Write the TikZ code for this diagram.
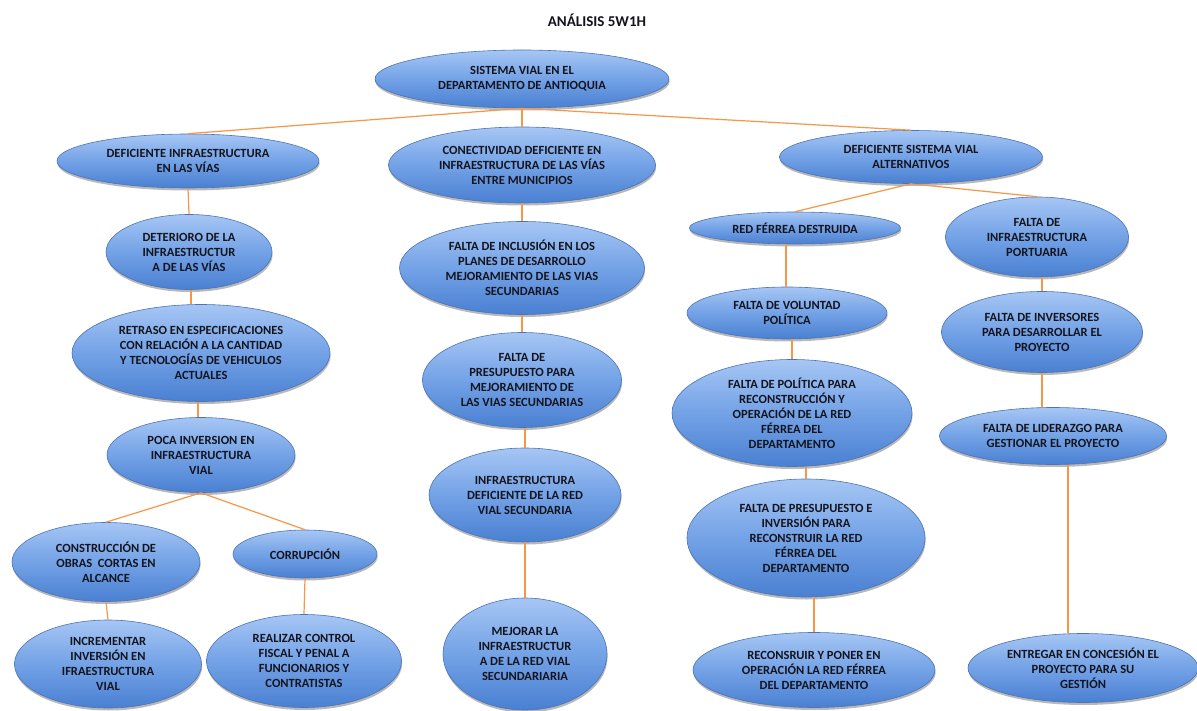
\documentclass[tikz,border=0pt]{standalone}
\usepackage{fontspec}
\setmainfont{Carlito}
\usetikzlibrary{shapes.geometric,shadows,calc}
\definecolor{ctop}{HTML}{A6C6F4}
\definecolor{cmid}{HTML}{73A2E6}
\definecolor{cbot}{HTML}{4A80D2}
\definecolor{eborder}{HTML}{4A74B8}
\definecolor{ctext}{HTML}{14141E}
\definecolor{corange}{HTML}{F79646}
\tikzset{
  bub/.style={ellipse, draw=eborder, line width=0.6pt, top color=ctop, bottom color=cbot, middle color=cmid,
    inner sep=0pt, align=center, font=\fontsize{12.5}{15}\selectfont\bfseries, text=ctext,
    drop shadow={shadow xshift=0.6pt, shadow yshift=-2.5pt, opacity=0.28, fill=black}},
  link/.style={draw=corange, line width=1.2pt},
  titletext/.style={font=\fontsize{15}{18}\selectfont\bfseries, text=ctext}
}
\begin{document}
\begin{tikzpicture}[x=1pt,y=1pt]
\fill[white] (0,0) rectangle (1197,-711);
\path[use as bounding box] (0,0) rectangle (1197,-711);

\node[titletext] (title) at (597,-20) {ANÁLISIS 5W1H};

% root and level 1
\node[bub, minimum width=294pt, minimum height=58pt] (root) at (522,-79) {SISTEMA VIAL EN EL\\DEPARTAMENTO DE ANTIOQUIA};
\node[bub, minimum width=262pt, minimum height=54pt] (la) at (188,-161) {DEFICIENTE INFRAESTRUCTURA\\EN LAS VÍAS};
\node[bub, minimum width=267pt, minimum height=76pt] (lb) at (522,-165) {CONECTIVIDAD DEFICIENTE EN\\INFRAESTRUCTURA DE LAS VÍAS\\ENTRE MUNICIPIOS};
\node[bub, minimum width=263pt, minimum height=53pt] (lc) at (911,-157) {DEFICIENTE SISTEMA VIAL\\ALTERNATIVOS};

% left column
\node[bub, minimum width=166pt, minimum height=75pt] (a1) at (189,-252) {DETERIORO DE LA\\INFRAESTRUCTUR\\A DE LAS VÍAS};
\node[bub, minimum width=258pt, minimum height=97pt] (a2) at (201,-353) {RETRASO EN ESPECIFICACIONES\\CON RELACIÓN A LA CANTIDAD\\Y TECNOLOGÍAS DE VEHICULOS\\ACTUALES};
\node[bub, minimum width=188pt, minimum height=75pt] (a3) at (201,-455) {POCA INVERSION EN\\INFRAESTRUCTURA\\VIAL};
\node[bub, minimum width=188pt, minimum height=79pt] (a4) at (106,-562) {CONSTRUCCIÓN DE\\OBRAS~ CORTAS EN\\ALCANCE};
\node[bub, minimum width=144pt, minimum height=48pt] (a5) at (305,-554) {CORRUPCIÓN};
\node[bub, minimum width=187pt, minimum height=88pt] (a6) at (108,-664) {INCREMENTAR\\INVERSIÓN EN\\IFRAESTRUCTURA\\VIAL};
\node[bub, minimum width=195pt, minimum height=93pt] (a7) at (304,-661) {REALIZAR CONTROL\\FISCAL Y PENAL A\\FUNCIONARIOS Y\\CONTRATISTAS};

% middle column
\node[bub, minimum width=245pt, minimum height=93pt] (b1) at (522,-268) {FALTA DE INCLUSIÓN EN LOS\\PLANES DE DESARROLLO\\MEJORAMIENTO DE LAS VIAS\\SECUNDARIAS};
\node[bub, minimum width=199pt, minimum height=95pt] (b2) at (522,-380) {FALTA DE\\PRESUPUESTO PARA\\MEJORAMIENTO DE\\LAS VIAS SECUNDARIAS};
\node[bub, minimum width=192pt, minimum height=94pt] (b3) at (525,-495) {INFRAESTRUCTURA\\DEFICIENTE DE LA RED\\VIAL SECUNDARIA};
\node[bub, minimum width=164pt, minimum height=112pt] (b4) at (525,-654) {MEJORAR LA\\INFRAESTRUCTUR\\A DE LA RED VIAL\\SECUNDARIARIA};

% right-middle column
\node[bub, minimum width=211pt, minimum height=32pt] (c1) at (795,-228) {RED FÉRREA DESTRUIDA};
\node[bub, minimum width=200pt, minimum height=52pt] (c2) at (787,-313) {FALTA DE VOLUNTAD\\POLÍTICA};
\node[bub, minimum width=240pt, minimum height=107pt] (c3) at (792,-413) {FALTA DE POLÍTICA PARA\\RECONSTRUCCIÓN Y\\OPERACIÓN DE LA RED\\FÉRREA DEL\\DEPARTAMENTO};
\node[bub, minimum width=238pt, minimum height=118pt] (c4) at (806,-538) {FALTA DE PRESUPUESTO E\\INVERSIÓN PARA\\RECONSTRUIR LA RED\\FÉRREA DEL\\DEPARTAMENTO};
\node[bub, minimum width=242pt, minimum height=75pt] (c5) at (814,-670) {RECONSRUIR Y PONER EN\\OPERACIÓN LA RED FÉRREA\\DEL DEPARTAMENTO};

% right column
\node[bub, minimum width=183pt, minimum height=80pt] (d1) at (1037,-237) {FALTA DE\\INFRAESTRUCTURA\\PORTUARIA};
\node[bub, minimum width=201pt, minimum height=81pt] (d2) at (1042,-332) {FALTA DE INVERSORES\\PARA DESARROLLAR EL\\PROYECTO};
\node[bub, minimum width=227pt, minimum height=57pt] (d3) at (1053,-436) {FALTA DE LIDERAZGO PARA\\GESTIONAR EL PROYECTO};
\node[bub, minimum width=230pt, minimum height=69pt] (d4) at (1083,-668) {ENTREGAR EN CONCESIÓN EL\\PROYECTO PARA SU\\GESTIÓN};

% connector start points
\coordinate (pa1) at ($(a1.south)+(2,0)$);
\coordinate (pa2) at ($(a2.south)+(-3,0)$);
\coordinate (pc1) at ($(c1.south)+(-9,0)$);
\coordinate (pd3) at ($(d3.south)+(15,0)$);

% connectors
\draw[link] (root.south) -- (la.north);
\draw[link] (root.south) -- (lb.north);
\draw[link] (root.south) -- (lc.north);

\draw[link] (la.south) -- (a1.north);
\draw[link] (pa1) -- (pa1 |- a2.north);
\draw[link] (pa2) -- (pa2 |- a3.north);
\draw[link] (a3.south) -- (a4.north);
\draw[link] (a3.south) -- (a5.north);
\draw[link] (a4.south) -- (a6.north);
\draw[link] (a5.south) -- (a7.north);

\draw[link] (lb.south) -- (b1.north);
\draw[link] (b1.south) -- (b2.north);
\draw[link] (b2.south -| b3.north) -- (b3.north);
\draw[link] (b3.south) -- (b4.north);

\draw[link] (lc.south) -- (c1.north);
\draw[link] (pc1) -- (pc1 |- c2.north);
\draw[link] (c2.south -| c3.north) -- (c3.north);
\draw[link] (c3.south -| c4.north) -- (c4.north);
\draw[link] (c4.south -| c5.north) -- (c5.north);

\draw[link] (lc.south) -- (d1.north);
\draw[link] (d1.south -| d2.north) -- (d2.north);
\draw[link] (d2.south) -- (d2.south |- d3.north);
\draw[link] (pd3) -- (pd3 |- d4.north);
\end{tikzpicture}
\end{document}
